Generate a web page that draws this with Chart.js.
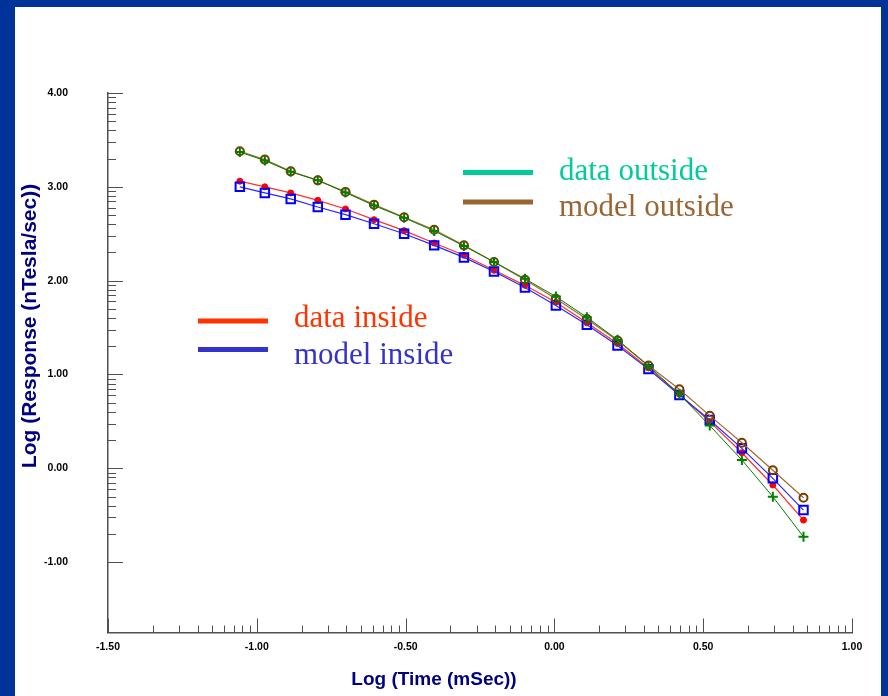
<!DOCTYPE html>
<html>
<head>
<meta charset="utf-8">
<script src="https://cdn.jsdelivr.net/npm/chart.js@4.4.0/dist/chart.umd.min.js"></script>
<style>
html, body { margin: 0; padding: 0; background: #003399; }
#wrap { position: relative; width: 888px; height: 696px; }
</style>
</head>
<body>
<div id="wrap"><canvas id="chart" width="888" height="696"></canvas></div>
<script>
// ---------------- DATA ----------------
const logTime = [-1.057, -0.973, -0.886, -0.795, -0.702, -0.606, -0.505, -0.404, -0.304, -0.203,
                 -0.099, 0.005, 0.109, 0.212, 0.316, 0.42, 0.522, 0.63, 0.734, 0.837];
const dataInside = [3.06, 3.0, 2.935, 2.856, 2.764, 2.65, 2.533, 2.401, 2.27, 2.11,
                    1.95, 1.77, 1.55, 1.33, 1.07, 0.79, 0.497, 0.166, -0.178, -0.552];
const modelInside = [3.0, 2.935, 2.871, 2.785, 2.703, 2.607, 2.5, 2.376, 2.248, 2.098,
                     1.927, 1.735, 1.529, 1.308, 1.057, 0.782, 0.515, 0.213, -0.107, -0.445];
const dataOutside = [3.37, 3.28, 3.16, 3.07, 2.94, 2.8, 2.67, 2.53, 2.37, 2.2,
                     2.02, 1.83, 1.61, 1.37, 1.09, 0.79, 0.455, 0.089, -0.303, -0.73];
const modelOutside = [3.379, 3.29, 3.165, 3.069, 2.946, 2.81, 2.675, 2.543, 2.376, 2.198,
                      2.01, 1.807, 1.59, 1.362, 1.095, 0.843, 0.561, 0.273, -0.021, -0.314];
const xTicks = [-1.5, -1.0, -0.5, 0, 0.5, 1.0];
const yTicks = [-1, 0, 1, 2, 3, 4];
const legendNames = ["data outside", "model outside", "data inside", "model inside"];
const xTitle = "Log (Time (mSec))";
const yTitle = "Log (Response (nTesla/sec))";

const pts = ys => logTime.map((x, i) => ({ x: x, y: ys[i] }));

// ---------------- PLUGINS ----------------
const frame = {
  id: "frame",
  beforeDraw(chart) {
    const c = chart.ctx;
    c.save();
    c.fillStyle = "#003399";
    c.fillRect(0, 0, chart.width, chart.height);
    c.fillStyle = "#ffffff";
    c.fillRect(15, 7, 866, chart.height - 7);
    c.restore();
  }
};

// inward major ticks + log-style minor ticks, and the axis titles
const axisMarks = {
  id: "axisMarks",
  beforeDatasetsDraw(chart) {
    const c = chart.ctx;
    const xs = chart.scales.x, ys = chart.scales.y;
    const a = chart.chartArea;
    c.save();
    c.strokeStyle = "#505050";
    c.lineWidth = 1;
    c.beginPath();
    xTicks.forEach((v, i) => {
      const px = Math.round(xs.getPixelForValue(v)) + 0.5;
      c.moveTo(px, a.bottom); c.lineTo(px, a.bottom - 14);
      if (i < xTicks.length - 1) {
        const step = xTicks[i + 1] - v;
        for (let k = 2; k <= 9; k++) {
          const m = Math.round(xs.getPixelForValue(v + step * Math.log10(k))) + 0.5;
          c.moveTo(m, a.bottom); c.lineTo(m, a.bottom - 7);
        }
      }
    });
    yTicks.forEach((v, i) => {
      const py = Math.round(ys.getPixelForValue(v)) + 0.5;
      c.moveTo(a.left, py); c.lineTo(a.left + 15, py);
      if (i < yTicks.length - 1) {
        const step = yTicks[i + 1] - v;
        for (let k = 2; k <= 9; k++) {
          const m = Math.round(ys.getPixelForValue(v + step * Math.log10(k))) + 0.5;
          c.moveTo(a.left, m); c.lineTo(a.left + 8, m);
        }
      }
    });
    c.stroke();

    c.fillStyle = "#000080";
    c.textAlign = "center";
    c.textBaseline = "middle";
    c.font = "bold 19px 'Liberation Sans', Arial, sans-serif";
    c.fillText(xTitle, 434, 680);
    c.translate(30, 326);
    c.rotate(-Math.PI / 2);
    c.font = "bold 21px 'Liberation Sans', Arial, sans-serif";
    c.fillText(yTitle, 0, 0);
    c.restore();
  }
};

const sideLegend = {
  id: "sideLegend",
  afterDraw(chart) {
    const c = chart.ctx;
    const items = [
      { text: legendNames[0], color: "#00cc99", x: 463, y: 172.5, base: 180 },
      { text: legendNames[1], color: "#996633", x: 463, y: 202, base: 216 },
      { text: legendNames[2], color: "#ff3300", x: 198, y: 321, base: 327 },
      { text: legendNames[3], color: "#3333cc", x: 198, y: 349.5, base: 364 }
    ];
    c.save();
    c.font = "31px 'Liberation Serif', 'Times New Roman', serif";
    c.textAlign = "left";
    c.textBaseline = "alphabetic";
    items.forEach(it => {
      c.fillStyle = it.color;
      c.fillRect(it.x, it.y - 2.5, 70, 5);
      c.fillText(it.text, it.x + 96, it.base);
    });
    c.restore();
  }
};

// ---------------- CHART ----------------
const tickFont = { family: "'Liberation Sans', Arial, sans-serif", size: 10.5, weight: "bold" };

new Chart(document.getElementById("chart"), {
  type: "line",
  data: {
    datasets: [
      {
        label: legendNames[0], data: pts(dataOutside),
        borderColor: "#008000", backgroundColor: "#008000", borderWidth: 1,
        pointStyle: "cross", pointRadius: 5, pointBorderWidth: 2
      },
      {
        label: legendNames[1], data: pts(modelOutside),
        borderColor: "#a86a30", backgroundColor: "rgba(255,255,255,0)", borderWidth: 1.2,
        pointStyle: "circle", pointRadius: 4, pointBorderWidth: 2, pointBorderColor: "#7a3c00"
      },
      {
        label: legendNames[3], data: pts(modelInside),
        borderColor: "#2a2aff", backgroundColor: "rgba(255,255,255,0)", borderWidth: 1.2,
        pointStyle: "rect", pointRadius: 6, pointBorderWidth: 2, pointBorderColor: "#0000ff"
      },
      {
        label: legendNames[2], data: pts(dataInside),
        borderColor: "#ff3030", backgroundColor: "#ff0000", borderWidth: 1.2,
        pointStyle: "circle", pointRadius: 3, pointBorderWidth: 1, pointBorderColor: "#ff0000"
      }
    ]
  },
  options: {
    responsive: false,
    animation: false,
    devicePixelRatio: 1,
    layout: { padding: { left: 16, right: 36, top: 93, bottom: 0 } },
    elements: { line: { fill: false, tension: 0 } },
    plugins: {
      legend: { display: false },
      tooltip: { enabled: false }
    },
    scales: {
      x: {
        type: "linear",
        min: -1.5,
        max: 1.0,
        afterBuildTicks: s => { s.ticks = xTicks.map(v => ({ value: v })); },
        afterFit: s => { s.height = 63.5; },
        ticks: {
          padding: 8,
          color: "#000000",
          font: tickFont,
          maxRotation: 0,
          callback: v => Number(v).toFixed(2)
        },
        grid: { drawOnChartArea: false, drawTicks: false },
        border: { display: true, color: "#505050", width: 1.5 }
      },
      y: {
        type: "linear",
        min: -1.75,
        max: 4.0,
        afterBuildTicks: s => { s.ticks = yTicks.map(v => ({ value: v })); },
        afterFit: s => { s.width = 92; },
        ticks: {
          padding: 40,
          color: "#000000",
          font: tickFont,
          callback: v => Number(v).toFixed(2)
        },
        grid: { drawOnChartArea: false, drawTicks: false },
        border: { display: true, color: "#505050", width: 1.5 }
      }
    }
  },
  plugins: [frame, axisMarks, sideLegend]
});
</script>
</body>
</html>
